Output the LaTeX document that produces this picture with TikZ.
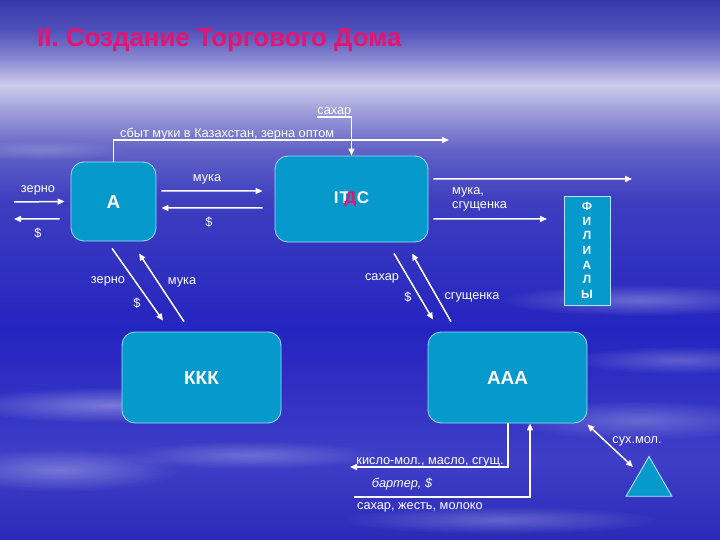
\documentclass[tikz,border=0pt]{standalone}
\usepackage{fontspec}
\setmainfont{Liberation Sans}
\usetikzlibrary{arrows.meta, shapes.geometric, fadings}

\definecolor{boxblue}{RGB}{6,153,204}
\definecolor{titlered}{RGB}{228,20,112}
\definecolor{skyA}{RGB}{42,42,184}
\definecolor{skyB}{RGB}{62,62,200}
\definecolor{skyC}{RGB}{36,36,192}
\definecolor{skyD}{RGB}{62,62,192}
\definecolor{skyE}{RGB}{98,98,198}
\definecolor{skyF}{RGB}{160,160,218}
\definecolor{skyG}{RGB}{204,204,236}
\definecolor{skyH}{RGB}{140,140,210}
\definecolor{skyI}{RGB}{80,80,186}
\definecolor{skyJ}{RGB}{56,56,172}
\pgfdeclareverticalshading{sky}{100bp}{color(0bp)=(skyA); color(25bp)=(skyA);
  color(32.4bp)=(skyB); color(44.4bp)=(skyC); color(56.5bp)=(skyD);
  color(61.1bp)=(skyE); color(64.8bp)=(skyF); color(67.1bp)=(skyG);
  color(69.4bp)=(skyH); color(72.2bp)=(skyI); color(75bp)=(skyJ); color(100bp)=(skyJ)}
\tikzfading[name=cloudfade, inner color=transparent!0, outer color=transparent!100]

\begin{document}
\begin{tikzpicture}[x=1bp, y=-1bp,
    flow/.style={-{Triangle[length=7bp,width=6bp]}, draw=white, line width=1.5bp},
    box/.style={draw=white!60!cyan, line width=0.8bp, fill=boxblue, rounded corners=13bp,
      text=white, font=\fontsize{19}{21}\selectfont\bfseries},
    lbl/.style={text=white, inner sep=0pt, font=\fontsize{12.8}{14}\selectfont}]

  % background
  \useasboundingbox (0,0) rectangle (720,540);
  \shade[shading=sky] (0,0) rectangle (720,540);
  \fill[white, opacity=0.35, path fading=cloudfade] (110,405) ellipse (150 and 18);
  \fill[white, opacity=0.30, path fading=cloudfade] (60,470) ellipse (120 and 22);
  \fill[white, opacity=0.25, path fading=cloudfade] (250,455) ellipse (130 and 14);
  \fill[white, opacity=0.30, path fading=cloudfade] (640,300) ellipse (140 and 16);
  \fill[white, opacity=0.25, path fading=cloudfade] (680,360) ellipse (110 and 14);
  \fill[white, opacity=0.25, path fading=cloudfade] (640,420) ellipse (130 and 20);
  \fill[white, opacity=0.20, path fading=cloudfade] (40,150) ellipse (90 and 10);
  \fill[white, opacity=0.25, path fading=cloudfade] (500,520) ellipse (160 and 14);

  \node[anchor=west, inner sep=0pt, text=titlered, font=\fontsize{26}{28}\selectfont\bfseries]
    (title) at (37,40) {II. Создание Торгового Дома};

  % boxes
  \node[box, minimum width=85bp, minimum height=79bp] (A) at (113.5,201.5) {A};
  \node[box, minimum width=153bp, minimum height=86bp, font=\fontsize{17}{19}\selectfont\bfseries]
    (itds) at (351.5,199) {I\kern1bpТ\kern-5.5bp\textcolor{titlered}{Д}\kern0.5bpС};
  \node[box, minimum width=159bp, minimum height=91bp] (kkk) at (201.5,377.5) {ККК};
  \node[box, minimum width=159bp, minimum height=91bp] (aaa) at (507.5,377.5) {ААА};
  \node[draw=white!70!cyan, line width=0.9bp, fill=boxblue, text=white, align=center,
    minimum width=46bp, minimum height=109bp, inner sep=0pt,
    font=\fontsize{12}{14.7}\selectfont\bfseries] (fil) at (587,250.5)
    {Ф\\И\\Л\\И\\А\\Л\\Ы};
  \node[draw=white!70!cyan, line width=0.9bp, fill=boxblue, regular polygon,
    regular polygon sides=3, minimum size=53bp, inner sep=0pt] (tri) at (649,483) {};

  % free ends
  \coordinate (inL) at (14,202);
  \coordinate (outL) at (14,219);
  \coordinate (sbytEnd) at (449,140);
  \coordinate (outR1) at (632,179);
  \coordinate (outR2) at (547,219);
  \coordinate (kisloEnd) at (350,467);
  \coordinate (saharStart) at (354,497);
  \coordinate (triIn) at (633,467);

  % labels
  \node[lbl] (zernoL) at (38,190) {зерно};
  \node[lbl] (dolL) at (38,233) {\$};
  \node[lbl] (mukaAI) at (207,179) {мука};
  \node[lbl] (dolAI) at (209,222) {\$};
  \node[lbl, anchor=south west] (sbyt) at (120,140) {сбыт муки в Казахстан, зерна оптом};
  \node[lbl, anchor=south east] (sugar) at (351.5,117) {сахар};
  \node[lbl, anchor=west, align=left] (mukaR) at (452,199) {мука,\\сгущенка};
  \node[lbl] (zernoAK) at (108,281) {зерно};
  \node[lbl] (dolAK) at (137,303) {\$};
  \node[lbl] (mukaAK) at (182,282) {мука};
  \node[lbl] (saharIA) at (382,278) {сахар};
  \node[lbl] (dolIA) at (408,297) {\$};
  \node[lbl] (sgushIA) at (472,297) {сгущенка};
  \node[lbl, anchor=south] (kislo) at (430,467) {кисло-мол., масло, сгущ.};
  \node[lbl, font=\fontsize{12.8}{14}\selectfont\itshape] (barter) at (402,484) {бартер, \$};
  \node[lbl] (saharB) at (420,507) {сахар, жесть, молоко};
  \node[lbl] (suhmol) at (637,441) {сух.мол.};

  % connectors
  \draw[flow] (inL) -- ([xshift=-6bp]A.west);
  \draw[flow] ([xshift=-11bp,yshift=-17.5bp]A.west) -- (outL);
  \draw[flow] ([xshift=5bp,yshift=10.5bp]A.east) -- ([xshift=-12bp,yshift=8bp]itds.west);
  \draw[flow] ([xshift=-12bp,yshift=-9bp]itds.west) -- ([xshift=5bp,yshift=-6.5bp]A.east);
  \draw[flow] (A.north) |- (sbytEnd);
  \draw[flow] (sugar.south west) -- (sugar.south east) -- (itds.north);
  \draw[flow] ([xshift=5bp,yshift=20bp]itds.east) -- (outR1);
  \draw[flow] ([xshift=5bp,yshift=-20bp]itds.east) -- (outR2);
  \draw[flow] ([xshift=-1.5bp,yshift=-7bp]A.south) -- ([xshift=-38.5bp,yshift=11bp]kkk.north);
  \draw[flow] ([xshift=-17.5bp,yshift=10bp]kkk.north) -- ([xshift=25.5bp,yshift=-12bp]A.south);
  \draw[flow] ([xshift=42.5bp,yshift=-11bp]itds.south) -- ([xshift=-74.5bp,yshift=12bp]aaa.north);
  \draw[flow] ([xshift=-56.5bp,yshift=10bp]aaa.north) -- ([xshift=60.5bp,yshift=-11bp]itds.south);
  \draw[flow] ([xshift=0.5bp]aaa.south) |- (kisloEnd);
  \draw[flow] (saharStart) -| ([xshift=22.5bp]aaa.south);
  \draw[flow, {Triangle[length=7bp,width=6bp]}-{Triangle[length=7bp,width=6bp]}]
    ([yshift=-1bp]aaa.south east) -- (triIn);

\end{tikzpicture}
\end{document}
